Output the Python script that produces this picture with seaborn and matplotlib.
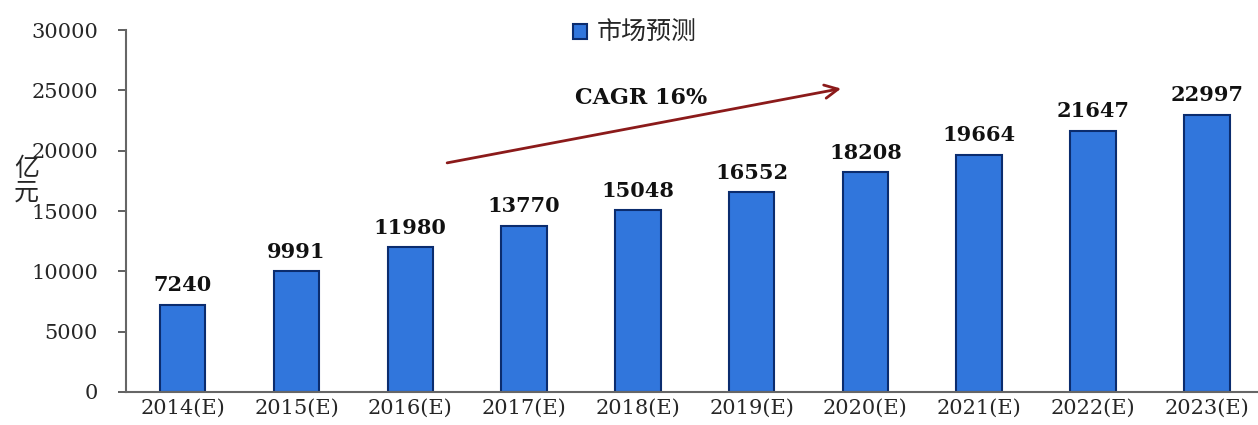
import pandas as pd
import seaborn as sns
import matplotlib.pyplot as plt

years = ['2014(E)', '2015(E)', '2016(E)', '2017(E)', '2018(E)',
         '2019(E)', '2020(E)', '2021(E)', '2022(E)', '2023(E)']
values = [7240, 9991, 11980, 13770, 15048, 16552, 18208, 19664, 21647, 22997]
series_name = '市场预测'
yticks = [0, 5000, 10000, 15000, 20000, 25000, 30000]

sns.set_style('white')
plt.rcParams['font.family'] = ['DejaVu Serif', 'Noto Sans CJK SC']

def main():
    df = pd.DataFrame({'year': years, 'value': values, 'series': series_name})

    fig = plt.figure(figsize=(12.58, 4.25), dpi=100)
    ax = fig.add_axes([0.100, 0.078, 0.900, 0.851])

    sns.barplot(data=df, x='year', y='value', hue='series', ax=ax,
                palette=['#3176DC'], width=0.4, edgecolor='#0B2C6E',
                linewidth=1.5, saturation=1)

    for i, v in enumerate(values):
        ax.text(i, v + 800, str(v), ha='center', va='bottom',
                fontsize=15, fontweight='bold', color='#111111')

    ax.set_ylim(0, 30000)
    ax.set_xlim(-0.5, 9.45)
    ax.set_yticks(yticks)
    ax.set_yticklabels([str(t) for t in yticks], fontsize=15)
    ax.tick_params(axis='x', labelsize=15, length=0, pad=5)
    ax.tick_params(axis='y', left=True, length=6, width=1.2, color='#444444', pad=14)
    ax.set_xlabel('')
    ax.set_ylabel('')

    for side in ['top', 'right']:
        ax.spines[side].set_visible(False)
    ax.spines['left'].set_color('#666666')
    ax.spines['bottom'].set_color('#666666')
    ax.spines['left'].set_linewidth(1.5)
    ax.spines['bottom'].set_linewidth(1.5)

    # y label stacked vertically
    fig.text(0.021, 0.575, '亿\n元', fontsize=18, family=['Noto Sans CJK SC'],
             ha='center', va='center', linespacing=0.85)

    # growth arrow
    ax.annotate('', xy=(5.81, 25200), xytext=(2.30, 18950),
                arrowprops=dict(arrowstyle='->', color='#8B1A1A', lw=2,
                                mutation_scale=24))
    ax.text(4.03, 24400, 'CAGR 16%', ha='center', va='center',
            fontsize=16, fontweight='bold', color='#111111')

    ax.legend(loc='upper center', bbox_to_anchor=(0.45, 1.09), frameon=False,
              handlelength=0.55, handleheight=0.55, handletextpad=0.4,
              prop={'family': 'Noto Sans CJK SC', 'size': 18})

    fig.savefig('out.png', dpi=100)


if __name__ == '__main__':
    main()
